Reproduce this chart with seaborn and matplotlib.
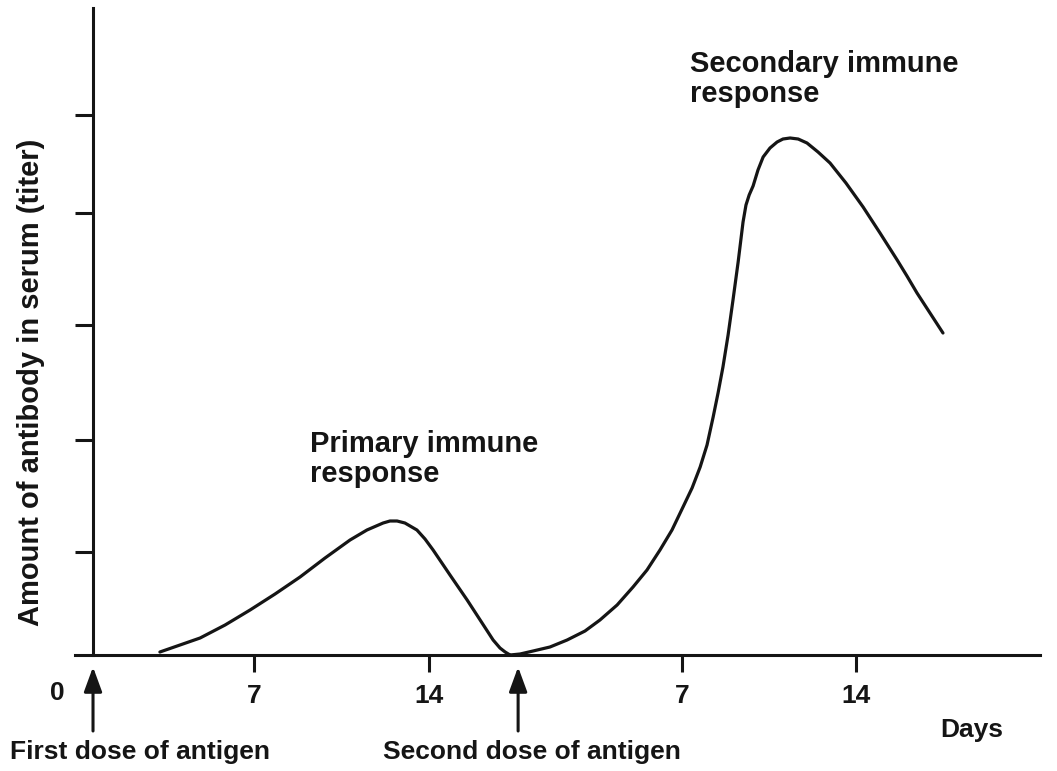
import matplotlib
matplotlib.use("Agg")
import matplotlib.pyplot as plt
import seaborn as sns
import pandas as pd

# days after first dose and titer (arbitrary units)
primary_days = [2.73, 3.55, 4.37, 5.39, 6.41, 7.43, 8.45, 9.47, 10.49, 11.18, 11.84, 12.12,
                12.41, 12.73, 13.22, 13.55, 13.88, 14.57, 15.27, 15.80, 16.33, 16.61, 16.82, 17.02]
primary_titer = [0.03, 0.10, 0.17, 0.30, 0.45, 0.61, 0.78, 0.97, 1.15, 1.25, 1.32, 1.34,
                 1.34, 1.32, 1.25, 1.16, 1.05, 0.80, 0.55, 0.35, 0.15, 0.07, 0.03, 0.0]

secondary_days = [17.02, 17.43, 17.96, 18.65, 19.35, 20.08, 20.69, 21.39, 22.04, 22.61, 23.14,
                  23.63, 24.08, 24.45, 24.78, 25.06, 25.31, 25.51, 25.71, 25.92, 26.12, 26.33,
                  26.53, 26.65, 26.78, 26.94, 27.14, 27.35, 27.63, 27.92, 28.16, 28.45, 28.78,
                  29.14, 29.59, 30.08, 30.73, 31.43, 32.12, 32.82, 33.22, 33.63, 34.16, 34.69]
secondary_titer = [0.0, 0.01, 0.04, 0.08, 0.15, 0.24, 0.35, 0.50, 0.68, 0.85, 1.05,
                   1.25, 1.48, 1.67, 1.88, 2.10, 2.38, 2.62, 2.88, 3.20, 3.55, 3.93,
                   4.33, 4.50, 4.60, 4.69, 4.85, 4.98, 5.07, 5.13, 5.16, 5.17, 5.16,
                   5.12, 5.03, 4.92, 4.72, 4.48, 4.22, 3.95, 3.79, 3.62, 3.42, 3.22]

first_dose = 0.0
second_dose = 17.35
xtick_pos = [6.57, 13.71, 24.04, 31.14]
xtick_labels = ["7", "14", "7", "14"]
ytick_pos = [1.03, 2.15, 3.30, 4.42, 5.40]

sns.set_style("white")
plt.rcParams["font.family"] = ["Liberation Sans", "DejaVu Sans"]
plt.rcParams["font.weight"] = "bold"
ink = "#151515"

fig = plt.figure(figsize=(10.57, 7.71), dpi=100)
ax = fig.add_axes([0.07096, 0.15045, 0.91296, 0.83917])

df1 = pd.DataFrame({"day": primary_days, "titer": primary_titer})
df2 = pd.DataFrame({"day": secondary_days, "titer": secondary_titer})
sns.lineplot(data=df1, x="day", y="titer", sort=False, color=ink, lw=2.3, ax=ax)
sns.lineplot(data=df2, x="day", y="titer", sort=False, color=ink, lw=2.3, ax=ax)
for l in ax.lines:
    l.set_solid_joinstyle("round")
    l.set_solid_capstyle("round")

ax.set_xlim(-0.735, 38.65)
ax.set_ylim(0, 6.47)

# axes
for s in ["top", "right"]:
    ax.spines[s].set_visible(False)
ax.spines["left"].set_position(("data", 0))
for s in ["left", "bottom"]:
    ax.spines[s].set_linewidth(2.2)
    ax.spines[s].set_color(ink)

ax.set_xticks(xtick_pos)
ax.set_xticklabels(xtick_labels, fontsize=19, fontweight="bold", color=ink)
ax.set_yticks(ytick_pos)
ax.set_yticklabels([])
ax.tick_params(axis="x", bottom=True, direction="out", length=12, width=2.2, color=ink, pad=9)
ax.tick_params(axis="y", left=True, direction="out", length=13, width=2.2, color=ink)
ax.set_xlabel("")
ax.set_ylabel("")

# dose arrows
for d in [first_dose, second_dose]:
    ax.annotate("", xy=(d, -0.12), xytext=(d, -0.76), xycoords="data",
                annotation_clip=False,
                arrowprops=dict(arrowstyle="-|>,head_length=1.5,head_width=0.55",
                                color=ink, lw=2.2, shrinkA=0, shrinkB=0))

ax.text(-1.47, -0.38, "0", fontsize=19, fontweight="bold", color=ink,
        ha="center", va="center", clip_on=False)
ax.text(-3.4, -0.97, "First dose of antigen", fontsize=19, fontweight="bold",
        color=ink, ha="left", va="center", clip_on=False)
ax.text(11.84, -0.97, "Second dose of antigen", fontsize=19, fontweight="bold",
        color=ink, ha="left", va="center", clip_on=False)
ax.text(35.85, -0.75, "Days", fontsize=19, fontweight="bold", color=ink,
        ha="center", va="center", clip_on=False)

ax.text(8.86, 2.25, "Primary immune\nresponse", fontsize=21, fontweight="bold",
        color=ink, ha="left", va="top", linespacing=1.1)
ax.text(24.37, 6.05, "Secondary immune\nresponse", fontsize=21, fontweight="bold",
        color=ink, ha="left", va="top", linespacing=1.1)

fig.text(31 / 1057, 1 - 382 / 771, "Amount of antibody in serum (titer)",
         rotation=90, fontsize=21, fontweight="bold", color=ink,
         ha="center", va="center")

fig.savefig("out.png", dpi=100, facecolor="white")
